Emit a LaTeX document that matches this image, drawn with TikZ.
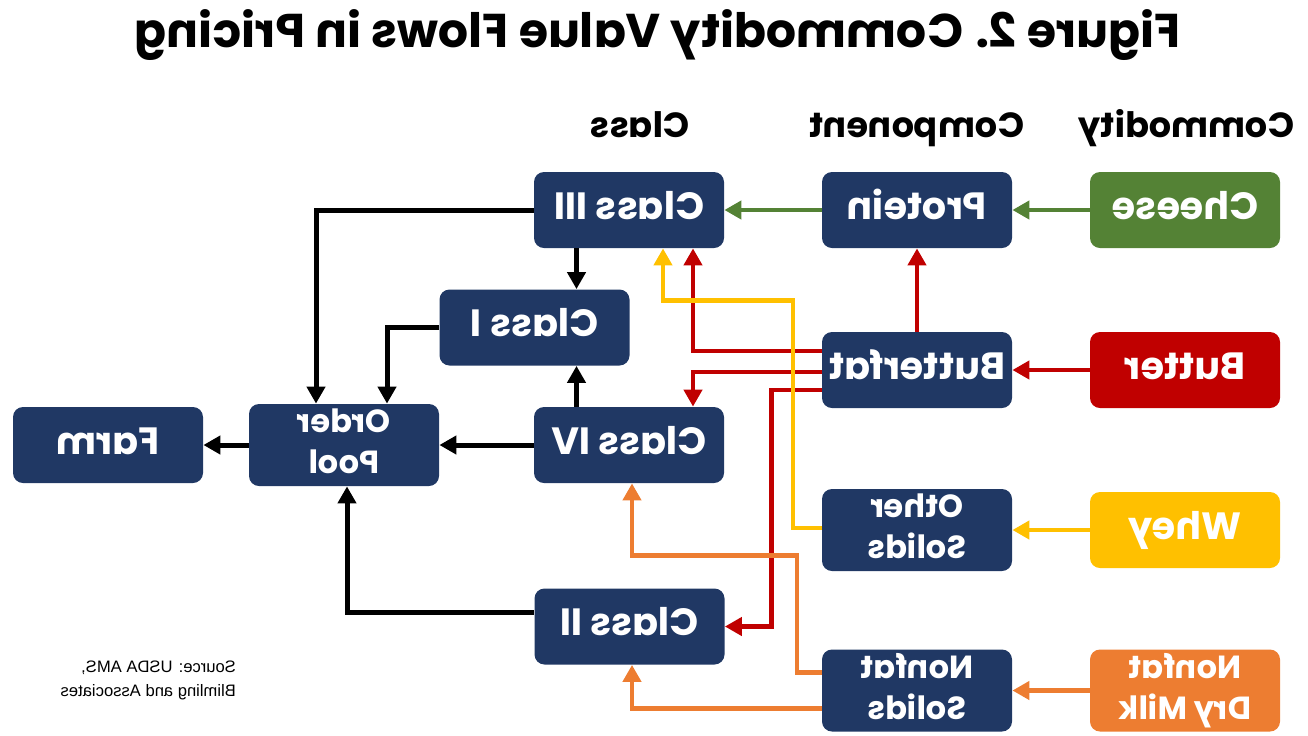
\documentclass[tikz,border=0pt]{standalone}
\usepackage{fontspec}
\setsansfont{Poppins}
\newfontfamily\arialish{Liberation Sans}
\usepackage{graphicx}
\usetikzlibrary{arrows.meta,positioning,calc}
\usepackage{xcolor}
\definecolor{navy}{HTML}{203864}
\definecolor{cheesegreen}{HTML}{548235}
\definecolor{butterred}{HTML}{C00000}
\definecolor{wheygold}{HTML}{FFC000}
\definecolor{milkorange}{HTML}{ED7D31}
% the reference is drawn mirrored, so every text is reflected
\newcommand{\mir}[1]{\reflectbox{\begin{tabular}{@{}c@{}}#1\end{tabular}}}
\newcommand{\mirl}[1]{\reflectbox{\begin{tabular}{@{}l@{}}#1\end{tabular}}}

\begin{document}
\begin{tikzpicture}[
  x=0.5pt, y=-0.5pt,
  caja/.style={rectangle, rounded corners=5pt, fill=navy, text=white, align=center, minimum width=95pt, minimum height=38pt, inner sep=0pt, font=\sffamily\bfseries\fontsize{19}{23}\selectfont},
  cajad/.style={caja, font=\sffamily\bfseries\fontsize{16}{20.5}\selectfont},
  encab/.style={anchor=base, font=\sffamily\bfseries\fontsize{17.5}{21}\selectfont},
  flecha/.style={-{Triangle[length=8.5pt, width=9pt]}, line width=2.5pt},
  flechac/.style={flecha, line width=2.3pt}
]
\useasboundingbox (0,0) rectangle (1308,735);

% titles
\node[anchor=base, font=\sffamily\bfseries\fontsize{23.7}{28}\selectfont] (titulo) at (657.5,49) {\mir{Figure 2. Commodity Value Flows in Pricing}};
\node[encab] (hclass) at (640,138) {\mir{Class}};
\node[encab] (hcomp) at (916.5,138) {\mir{Component}};
\node[encab] (hcommod) at (1186.5,138) {\mir{Commodity}};

% class column
\node[caja] (c3) at (629,210) {\mir{Class III}};
\node[caja] (c1) at (534.5,327.5) {\mir{Class I}};
\node[caja] (c4) at (629,445) {\mir{Class IV}};
\node[caja] (c2) at (629.5,626.5) {\mir{Class II}};
\node[cajad] (op) at (344,445) {\mir{Order\\Pool}};
\node[caja] (farm) at (108,445) {\mir{Farm}};

% component column
\node[caja] (prot) at (917,210) {\mir{Protein}};
\node[caja] (bfat) at (917,370) {\mir{Butterfat}};
\node[cajad] (osol) at (917,530) {\mir{Other\\Solids}};
\node[cajad] (nfs) at (917,690.5) {\mir{Nonfat\\Solids}};

% commodity column
\node[caja, fill=cheesegreen] (cheese) at (1185,210) {\mir{Cheese}};
\node[caja, fill=butterred] (butter) at (1185,370) {\mir{Butter}};
\node[caja, fill=wheygold] (whey) at (1185,530) {\mir{Whey}};
\node[cajad, fill=milkorange] (ndm) at (1185,690.5) {\mir{Nonfat\\Dry Milk}};

\node[anchor=east, font=\arialish\fontsize{8.3}{12}\selectfont] (fuente) at (243,680) {\mirl{Source: USDA AMS,\\Blimling and Associates}};

% commodity to component
\draw[flechac, cheesegreen] (cheese) -- (prot);
\draw[flechac, butterred] (butter) -- (bfat);
\draw[flechac, wheygold] (whey) -- (osol);
\draw[flechac, milkorange] (ndm) -- (nfs);

% component to class
\draw[flechac, cheesegreen] (prot) -- (c3);
\draw[flechac, butterred] (bfat) -- (prot);
\draw[flechac, butterred] ($(bfat.west)+(0,-19)$) -| ($(c3.south)+(64,0)$);
\draw[flechac, butterred] ($(bfat.west)+(0,2)$) -| ($(c4.north)+(64,0)$);
\draw[flechac, butterred] ($(bfat.west)+(0,20)$) -| ($(c2.east)+(46.5,0)$) -- (c2.east);
\draw[flechac, wheygold] ($(osol.west)+(0,-2)$) -| ($(c3.south)+(164,52)$) -| ($(c3.south)+(34,0)$);
\draw[flechac, milkorange] ($(nfs.west)+(0,-18)$) -| ($(c4.south)+(168,72)$) -| ($(c4.south)+(3,0)$);
\draw[flechac, milkorange] ($(nfs.west)+(0,18)$) -| ($(c2.south)+(2.5,0)$);

% class to pool to farm
\coordinate (mid) at ($(c1.north)+(42,0)$);
\draw[flecha] (mid |- c3.south) -- (mid);
\draw[flecha] (mid |- c4.north) -- (mid |- c1.south);
\draw[flecha] (c3.west) -| ($(op.north)+(-28,0)$);
\draw[flecha] (c1.west) -| ($(op.north)+(43,0)$);
\draw[flecha] (c4) -- (op);
\draw[flecha] ($(c2.west)+(0,-14.5)$) -| ($(op.south)+(3,0)$);
\draw[flecha] (op) -- (farm);
\end{tikzpicture}
\end{document}
